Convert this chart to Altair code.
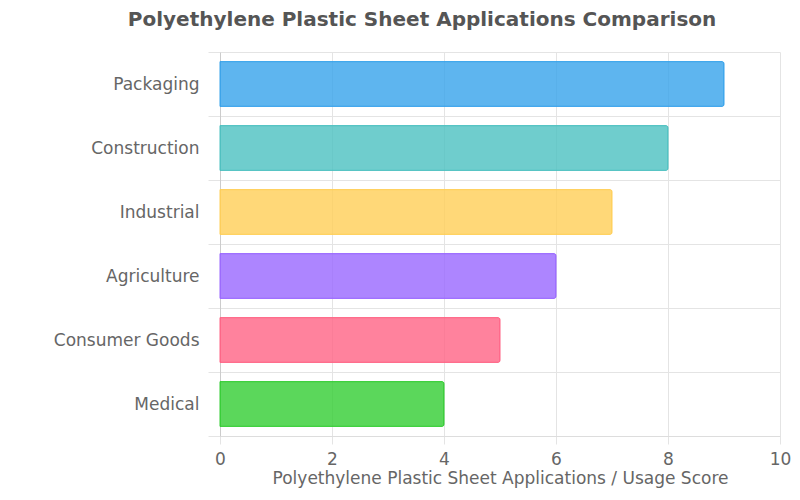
import altair as alt
import pandas as pd

categories = ["Packaging", "Construction", "Industrial", "Agriculture", "Consumer Goods", "Medical"]
scores = [9, 8, 7, 6, 5, 4]
colors = ["#36A2EB", "#4BC0C0", "#FFCE56", "#9966FF", "#FF6384", "#32CD32"]

df = pd.DataFrame({"Application": categories, "Score": scores})

FONT = "DejaVu Sans"
GRID = "#e4e4e4"
TEXT = "#666666"

chart = alt.Chart(df).mark_bar(
    height={"band": 0.7},
    fillOpacity=0.8,
    strokeWidth=1,
    cornerRadiusTopRight=2,
    cornerRadiusBottomRight=2,
).encode(
    y=alt.Y(
        "Application:N",
        sort=categories,
        title=None,
        scale=alt.Scale(paddingInner=0, paddingOuter=0),
        axis=alt.Axis(
            tickBand="extent",
            grid=True,
            gridColor=GRID,
            tickColor=GRID,
            tickSize=12,
            domainColor="#cccccc",
            labelFont=FONT,
            labelFontSize=17,
            labelColor=TEXT,
            labelPadding=9,
        ),
    ),
    x=alt.X(
        "Score:Q",
        title="Polyethylene Plastic Sheet Applications / Usage Score",
        scale=alt.Scale(domain=[0, 10]),
        axis=alt.Axis(
            values=[0, 2, 4, 6, 8, 10],
            grid=True,
            gridColor=GRID,
            tickColor=GRID,
            tickSize=8,
            domainColor="#dddddd",
            labelFlush=False,
            labelFont=FONT,
            labelFontSize=17,
            labelColor=TEXT,
            labelPadding=7,
            titleFont=FONT,
            titleFontSize=17,
            titleFontWeight="normal",
            titleColor=TEXT,
            titlePadding=3,
        ),
    ),
    fill=alt.Color("Application:N", scale=alt.Scale(domain=categories, range=colors), legend=None),
    stroke=alt.Color("Application:N", scale=alt.Scale(domain=categories, range=colors), legend=None),
).properties(
    width=560,
    height=384,
    title=alt.TitleParams(
        "Polyethylene Plastic Sheet Applications Comparison",
        font=FONT,
        fontSize=20,
        fontWeight="bold",
        color="#555555",
        anchor="middle",
        frame="bounds",
        offset=13,
    ),
    padding={"left": 212, "top": 44, "right": 12, "bottom": 56},
    autosize=alt.AutoSizeParams(type="none"),
).configure_view(stroke=None)

chart.save("out.html", embed_options={"renderer": "svg", "actions": False})
